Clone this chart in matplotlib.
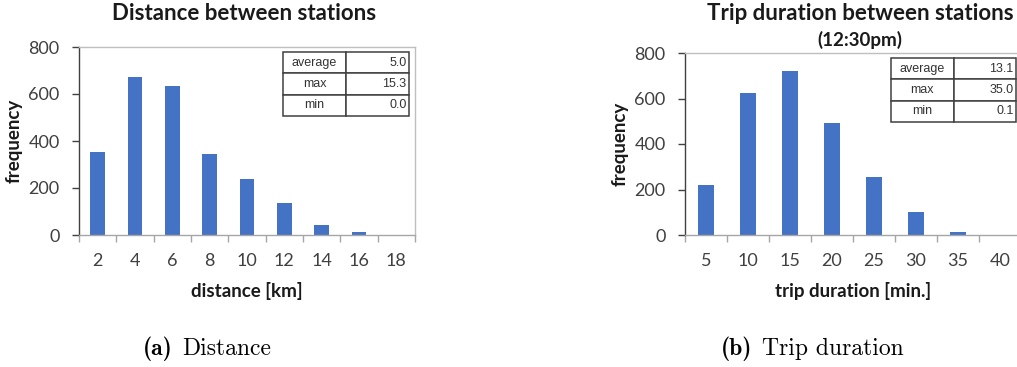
import matplotlib
matplotlib.use("Agg")
import matplotlib.pyplot as plt
from matplotlib.ticker import FixedLocator

# Histogram data
dist_bins = ["2", "4", "6", "8", "10", "12", "14", "16", "18"]
dist_freq = [353, 672, 636, 344, 240, 136, 43, 12, 0]
dist_stats_names = ["average", "max", "min"]
dist_stats_vals = ["5.0", "15.3", "0.0"]

dur_bins = ["5", "10", "15", "20", "25", "30", "35", "40"]
dur_freq = [220, 625, 720, 493, 254, 103, 13, 0]
dur_stats_names = ["average", "max", "min"]
dur_stats_vals = ["13.1", "35.0", "0.1"]

yticks = [0, 200, 400, 600, 800]

BAR = "#4472C4"
TXT = "#404040"
W, H = 1017, 367

fig = plt.figure(figsize=(W / 100, H / 100), dpi=100)


def px_axes(x0, y0, x1, y1):
    return fig.add_axes([x0 / W, 1 - y1 / H, (x1 - x0) / W, (y1 - y0) / H])


def histogram(ax, labels, freq, names, vals, table_box, xlabel):
    n = len(labels)
    x = list(range(n))
    ax.bar(x, freq, width=0.4, color=BAR, zorder=2)
    ax.set_xlim(-0.5, n - 0.5)
    ax.set_ylim(0, 800)
    ax.set_yticks(yticks)
    ax.set_xticks(x)
    ax.set_xticklabels(labels)
    ax.xaxis.set_minor_locator(FixedLocator([i - 0.5 for i in range(n + 1)]))
    ax.tick_params(axis="x", which="major", length=0, pad=13,
                   labelsize=13, labelcolor=TXT)
    ax.tick_params(axis="x", which="minor", length=5, width=1, color="#a6a6a6",
                   direction="out")
    ax.tick_params(axis="y", length=5, width=1, color="#404040", pad=9,
                   labelsize=13, labelcolor=TXT, direction="out")
    for lab in ax.get_xticklabels() + ax.get_yticklabels():
        lab.set_family("Lato")
    ax.spines["left"].set_color("#404040")
    ax.spines["left"].set_linewidth(1.0)
    ax.spines["bottom"].set_color("#a6a6a6")
    ax.spines["bottom"].set_linewidth(1.0)
    for s in ("top", "right"):
        ax.spines[s].set_color("#bfbfbf")
        ax.spines[s].set_linewidth(1.0)
    ax.set_ylabel("frequency", family="Lato", fontweight="bold", fontsize=13.5,
                  color="#1a1a1a", labelpad=4)
    ax.set_xlabel(xlabel, family="Lato", fontweight="bold", fontsize=13.5,
                  color="#1a1a1a", labelpad=9)

    # summary statistics table
    cells = [[a, b] for a, b in zip(names, vals)]
    tb = ax.table(cellText=cells, bbox=table_box, colWidths=[0.5, 0.5],
                  cellLoc="center", zorder=3)
    tb.auto_set_font_size(False)
    for (r, c), cell in tb.get_celld().items():
        cell.set_edgecolor("#404040")
        cell.set_linewidth(1.1)
        cell.set_facecolor("white")
        t = cell.get_text()
        t.set_fontsize(9)
        t.set_family("Liberation Sans")
        t.set_color("#333333")
        if c == 1:
            t.set_horizontalalignment("right")
            cell.PAD = 0.04
        else:
            t.set_horizontalalignment("center")


# Left panel: distance
ax1 = px_axes(79, 47, 415, 235)
l, b, r, t = 79, 47, 415, 235
tx0, ty0, tx1, ty1 = 283, 52, 409, 116
box1 = [(tx0 - l) / (r - l), (t - ty1) / (t - b),
        (tx1 - tx0) / (r - l), (ty1 - ty0) / (t - b)]
histogram(ax1, dist_bins, dist_freq, dist_stats_names, dist_stats_vals, box1,
          "distance [km]")
fig.text(244 / W, 1 - 14 / H, "Distance between stations", family="Lato",
         fontweight="bold", fontsize=16, color="#1a1a1a",
         ha="center", va="center")

# Right panel: trip duration
l, b, r, t = 685, 53, 1021, 235
ax2 = px_axes(l, b, r, t)
tx0, ty0, tx1, ty1 = 891, 58, 1016, 122
box2 = [(tx0 - l) / (r - l), (t - ty1) / (t - b),
        (tx1 - tx0) / (r - l), (ty1 - ty0) / (t - b)]
histogram(ax2, dur_bins, dur_freq, dur_stats_names, dur_stats_vals, box2,
          "trip duration [min.]")
fig.text(860 / W, 1 - 14 / H, "Trip duration between stations", family="Lato",
         fontweight="bold", fontsize=16, color="#1a1a1a",
         ha="center", va="center")
fig.text(860 / W, 1 - 40 / H, "(12:30pm)", family="Lato",
         fontweight="bold", fontsize=13.5, color="#1a1a1a",
         ha="center", va="center")

# Sub-figure captions: bold tag followed by the caption text
renderer = fig.canvas.get_renderer()
for cx, tag, name in [(207, "(a)", "Distance"), (812, "(b)", "Trip duration")]:
    t1 = fig.text(0, 0, tag, family="cmb10", fontsize=17, va="center")
    t2 = fig.text(0, 0, name, family="cmr10", fontsize=17, va="center")
    gap = 10
    w1 = t1.get_window_extent(renderer).width
    w2 = t2.get_window_extent(renderer).width
    x0 = cx - (w1 + gap + w2) / 2
    t1.set_position((x0 / W, 1 - 349 / H))
    t2.set_position(((x0 + w1 + gap) / W, 1 - 349 / H))

fig.savefig("out.png", dpi=100)
